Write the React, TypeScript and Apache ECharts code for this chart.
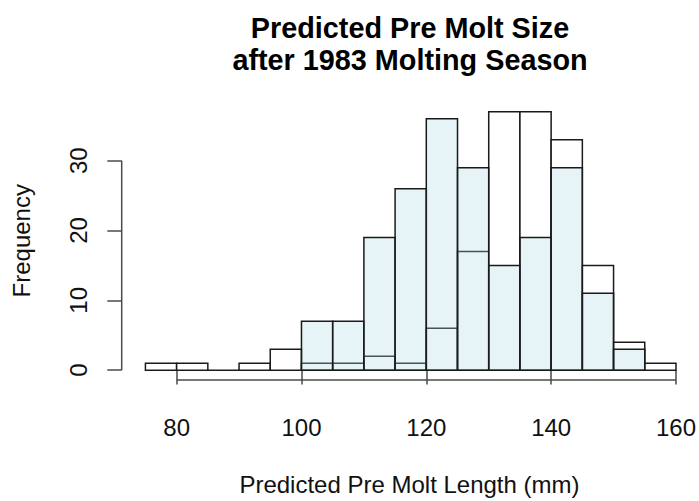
import React, { useEffect, useRef } from "react";
import * as echarts from "echarts";

// Histogram bins (left edges) and bin width, in mm
const binStarts = [75, 80, 85, 90, 95, 100, 105, 110, 115, 120, 125, 130, 135, 140, 145, 150, 155];
const binWidth = 5;
// White (outline) histogram counts
const allCounts = [1, 1, 0, 1, 3, 1, 1, 2, 1, 6, 17, 37, 37, 33, 15, 4, 1];
// Light-blue histogram counts
const subsetCounts = [0, 0, 0, 0, 0, 7, 7, 19, 26, 36, 29, 15, 19, 29, 11, 3, 0];
// Axis ticks
const xTicks = [80, 100, 120, 140, 160];
const yTicks = [0, 10, 20, 30];
// Texts
const titleLines = ["Predicted Pre Molt Size", "after 1983 Molting Season"];
const xTitle = "Predicted Pre Molt Length (mm)";
const yTitle = "Frequency";

const X_MIN = 71.2;
const X_MAX = 163.4;
const Y_MIN = -1.41;
const Y_MAX = 38.48;

const FONT = "'Liberation Sans', Arial, Helvetica, sans-serif";
const AXIS_COLOR = "#4a4a4a";
const BAR_STROKE = "#1a1a1a";

function makeBars(counts: number[], fill: string, skipZero: boolean) {
  const data = binStarts
    .map((s, i) => [s, s + binWidth, counts[i]])
    .filter((d) => !skipZero || d[2] > 0);
  return {
    type: "custom",
    silent: true,
    clip: false,
    data,
    encode: { x: [0, 1], y: 2 },
    renderItem: (_params: any, api: any) => {
      const x0 = api.value(0);
      const x1 = api.value(1);
      const h = api.value(2);
      const p0 = api.coord([x0, h]);
      const p1 = api.coord([x1, 0]);
      return {
        type: "rect",
        shape: { x: p0[0], y: p0[1], width: p1[0] - p0[0], height: p1[1] - p0[1] },
        style: { fill, stroke: BAR_STROKE, lineWidth: 1.5 },
      };
    },
  };
}

export default function App() {
  const ref = useRef<HTMLDivElement>(null);

  useEffect(() => {
    if (!ref.current) return;
    const chart = echarts.init(ref.current, null, { renderer: "svg" });
    const textStyle = { fontFamily: FONT, fontSize: 24, color: "#111" };
    chart.setOption({
      animation: false,
      backgroundColor: "#ffffff",
      textStyle: { fontFamily: FONT },
      grid: { left: 121.7, right: 1, top: 101.5, bottom: 116.7, containLabel: false },
      graphic: [
        {
          type: "text",
          x: 410,
          y: 28,
          style: {
            text: titleLines[0],
            fontFamily: FONT,
            fontSize: 28.8,
            fontWeight: "bold",
            fill: "#000",
            align: "center",
            verticalAlign: "middle",
          },
        },
        {
          type: "text",
          x: 410,
          y: 60,
          style: {
            text: titleLines[1],
            fontFamily: FONT,
            fontSize: 28.8,
            fontWeight: "bold",
            fill: "#000",
            align: "center",
            verticalAlign: "middle",
          },
        },
      ],
      xAxis: {
        type: "value",
        min: X_MIN,
        max: X_MAX,
        axisLine: { show: false },
        splitLine: { show: false },
        axisTick: {
          show: true,
          customValues: xTicks,
          length: 14.4,
          lineStyle: { color: AXIS_COLOR, width: 1.5 },
        },
        axisLabel: { customValues: xTicks, margin: 35, ...textStyle },
        name: xTitle,
        nameLocation: "middle",
        nameGap: 92,
        nameTextStyle: { ...textStyle },
      },
      yAxis: {
        type: "value",
        min: Y_MIN,
        max: Y_MAX,
        axisLine: { show: false },
        splitLine: { show: false },
        axisTick: {
          show: true,
          customValues: yTicks,
          length: 14.4,
          lineStyle: { color: AXIS_COLOR, width: 1.5 },
        },
        axisLabel: { customValues: yTicks, margin: 31, rotate: 90, ...textStyle },
        name: yTitle,
        nameLocation: "middle",
        nameGap: 88,
        nameTextStyle: { ...textStyle },
      },
      series: [
        makeBars(allCounts, "#ffffff", false),
        makeBars(subsetCounts, "rgba(173,216,230,0.3)", true),
        {
          type: "line",
          silent: true,
          clip: false,
          symbol: "none",
          data: [
            [xTicks[0], Y_MIN],
            [xTicks[xTicks.length - 1], Y_MIN],
          ],
          lineStyle: { color: AXIS_COLOR, width: 1.5 },
        },
        {
          type: "line",
          silent: true,
          clip: false,
          symbol: "none",
          data: [
            [X_MIN, yTicks[0]],
            [X_MIN, yTicks[yTicks.length - 1]],
          ],
          lineStyle: { color: AXIS_COLOR, width: 1.5 },
        },
      ],
    });
    return () => chart.dispose();
  }, []);

  return (
    <div
      ref={ref}
      style={{ position: "fixed", left: 0, top: 0, width: 699, height: 501, background: "#fff" }}
    />
  );
}
